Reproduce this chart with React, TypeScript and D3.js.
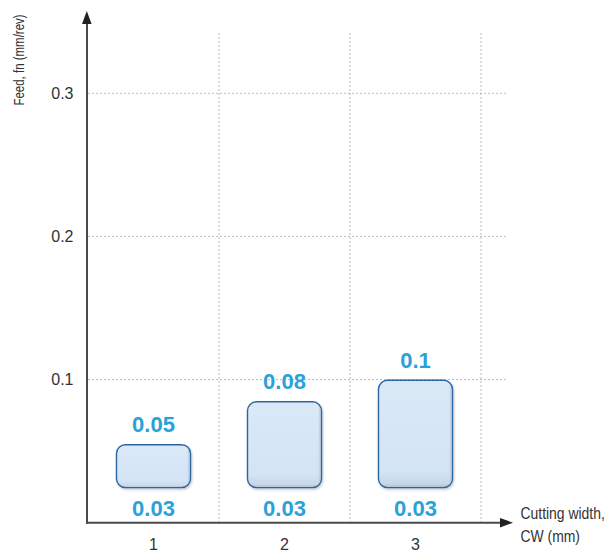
import React from "react";
import * as d3 from "d3";

const categories = ["1", "2", "3"];
const topLabels = ["0.05", "0.08", "0.1"];
const bottomLabels = ["0.03", "0.03", "0.03"];
// bar extents as drawn in the picture (schematic boxes)
const barTops = [0.0545, 0.0845, 0.0995];
const barBottoms = [0.0245, 0.0245, 0.0245];
const yTicks = [0.1, 0.2, 0.3];

const W = 609;
const H = 553;

export default function App() {
  const x = d3.scaleBand<string>().domain(categories).range([88, 481]).padding(0);
  const y = d3.scaleLinear().domain([0, 0.3]).range([522.7, 93.3]);
  const bw = x.bandwidth() * 0.565;
  const axisColor = "#4a4a4a";
  const gridColor = "#a8a8a8";
  const labelColor = "#2aa1d9";
  const font = "'Liberation Sans', Arial, sans-serif";

  return (
    <svg width={W} height={H} style={{ position: "absolute", left: 0, top: 0, background: "#fff" }}>
      <defs>
        <linearGradient id="barFill" x1="0" y1="0" x2="0" y2="1">
          <stop offset="0%" stopColor="#dbe9f7" />
          <stop offset="85%" stopColor="#d3e4f5" />
          <stop offset="96%" stopColor="#c8d8e8" />
          <stop offset="100%" stopColor="#aebdcc" />
        </linearGradient>
        <linearGradient id="barSide" x1="0" y1="0" x2="1" y2="0">
          <stop offset="0%" stopColor="#ffffff" stopOpacity="0" />
          <stop offset="94%" stopColor="#ffffff" stopOpacity="0" />
          <stop offset="100%" stopColor="#8c9cac" stopOpacity="0.4" />
        </linearGradient>
        <filter id="shadow" x="-20%" y="-20%" width="140%" height="140%">
          <feDropShadow dx="1" dy="1.5" stdDeviation="1" floodColor="#000" floodOpacity="0.22" />
        </filter>
      </defs>

      {/* horizontal gridlines */}
      {yTicks.map((t) => (
        <line key={"h" + t} x1={88} x2={508} y1={y(t)} y2={y(t)} stroke={gridColor} strokeWidth={0.8} strokeDasharray="2,2" />
      ))}
      {/* vertical gridlines */}
      {categories.map((c) => (
        <line key={"v" + c} x1={(x(c) as number) + x.bandwidth()} x2={(x(c) as number) + x.bandwidth()} y1={33} y2={y(0)} stroke={gridColor} strokeWidth={0.8} strokeDasharray="2,2" />
      ))}

      {/* bars */}
      {categories.map((c, i) => {
        const cx = (x(c) as number) + x.bandwidth() / 2;
        const yt = y(barTops[i]);
        const yb = y(barBottoms[i]);
        return (
          <g key={"b" + c}>
            <rect x={cx - bw / 2} y={yt} width={bw} height={yb - yt} rx={9} ry={9} fill="url(#barFill)" stroke="#2b66a3" strokeWidth={1.4} filter="url(#shadow)" />
            <rect x={cx - bw / 2 + 1} y={yt + 1} width={bw - 2} height={yb - yt - 2} rx={8} ry={8} fill="url(#barSide)" />
            <text x={cx} y={yt - 12.5} textAnchor="middle" fill={labelColor} fontFamily={font} fontWeight="bold" fontSize={22}>
              {topLabels[i]}
            </text>
            <text x={cx} y={515.7} textAnchor="middle" fill={labelColor} fontFamily={font} fontWeight="bold" fontSize={22}>
              {bottomLabels[i]}
            </text>
            <text x={cx} y={550} textAnchor="middle" fill="#333" fontFamily={font} fontSize={16}>
              {c}
            </text>
          </g>
        );
      })}

      {/* y tick labels */}
      {yTicks.map((t) => (
        <text key={"yt" + t} x={73.5} y={y(t) + 5.8} textAnchor="end" fill="#333" fontFamily={font} fontSize={16}>
          {d3.format(".1f")(t)}
        </text>
      ))}

      {/* axes */}
      <line x1={87} x2={87} y1={y(0) + 1} y2={22} stroke={axisColor} strokeWidth={2} />
      <path d="M86.8,11 L82,24 L91.6,24 Z" fill="#222" />
      <line x1={86} x2={502} y1={y(0)} y2={y(0)} stroke={axisColor} strokeWidth={2} />
      <path d="M513,522.7 L500,518 L500,527.4 Z" fill="#222" />

      {/* axis titles */}
      <g transform="translate(23.5,60) rotate(-90) scale(0.82,1)">
        <text x={0} y={0} textAnchor="middle" fill="#333" fontFamily={font} fontSize={14}>
          Feed, fn (mm/rev)
        </text>
      </g>
      <g transform="translate(520.5,518.5) scale(0.87,1)">
        <text x={0} y={0} fill="#333" fontFamily={font} fontSize={16}>
          Cutting width,
        </text>
      </g>
      <g transform="translate(520.5,542) scale(0.87,1)">
        <text x={0} y={0} fill="#333" fontFamily={font} fontSize={16}>
          CW (mm)
        </text>
      </g>
    </svg>
  );
}
